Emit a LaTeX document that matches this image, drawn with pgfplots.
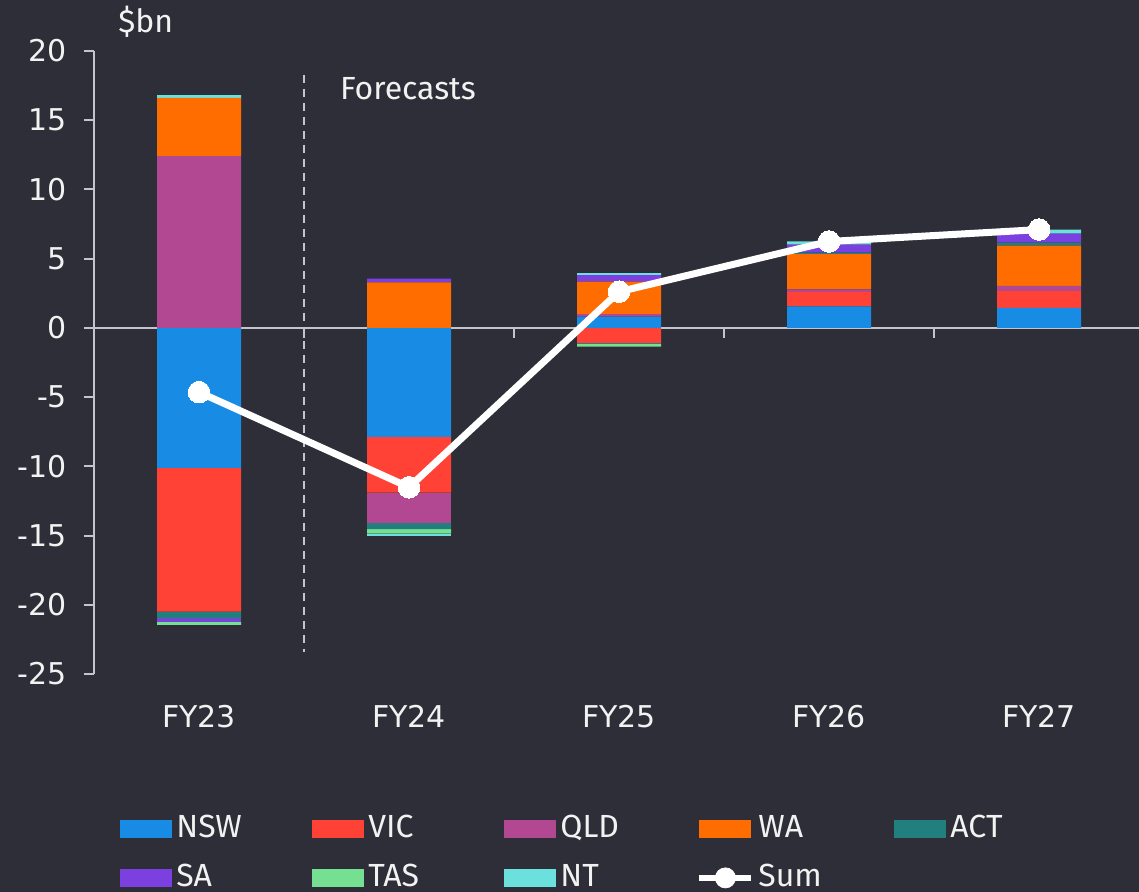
\documentclass[border=0pt]{standalone}
\usepackage{pgfplots}
\pgfplotsset{compat=1.18}
\usepackage{fontspec}
\setmainfont{Fira Sans}
\newfontfamily\tickfont{DejaVu Sans}
\definecolor{bg}{HTML}{2E2E38}
\definecolor{txt}{HTML}{F2F2F2}
\definecolor{axisc}{HTML}{C4C4CD}
\definecolor{NSWc}{HTML}{188CE5}
\definecolor{VICc}{HTML}{FF4136}
\definecolor{QLDc}{HTML}{B14891}
\definecolor{WAc}{HTML}{FF6D00}
\definecolor{ACTc}{HTML}{21807E}
\definecolor{SAc}{HTML}{7D40E0}
\definecolor{TASc}{HTML}{75DF92}
\definecolor{NTc}{HTML}{6BE0DC}
\pgfplotsset{
  mybar/.style={fill=#1, draw=none,
    legend image code/.code={\path[fill=#1] (0pt,-4.5pt) rectangle (26pt,4.5pt);}},
}
\begin{document}
\begin{tikzpicture}
\useasboundingbox (0,0) rectangle (569.5pt,446pt);
\fill[bg] (0,0) rectangle (569.5pt,446pt);
\begin{axis}[
  at={(47pt,109pt)}, anchor=south west,
  scale only axis, width=522.5pt, height=311.5pt,
  xmin=-0.5, xmax=4.476, ymin=-25, ymax=20,
  ybar stacked, bar width=42pt,
  axis y line*=left, axis x line*=bottom,
  x axis line style={draw=none},
  y axis line style={draw=axisc, line width=1pt},
  xtick={0,1,2,3,4}, xticklabels={FY23,FY24,FY25,FY26,FY27},
  xtick style={draw=none},
  ytick={-25,-20,-15,-10,-5,0,5,10,15,20},
  ytick style={draw=axisc, line width=1pt},
  tick align=outside, major tick length=5pt,
  /pgf/number format/assume math mode=true,
  every tick label/.append style={font=\tickfont\fontsize{15}{18}\selectfont, text=txt},
  yticklabel style={xshift=-5pt},
  xticklabel style={yshift=-7pt},
  clip=false,
  legend columns=5, legend cell align=left,
  legend style={at={(0.0249,-0.2247)}, anchor=north west, draw=none, fill=none,
    inner sep=0pt, text=txt, font=\fontsize{16}{19}\selectfont,
    row sep=10pt, column sep=0pt,
    nodes={inner xsep=2pt, inner ysep=0pt, text width=66pt, align=left,
      text height=11.5pt, text depth=3pt}},
]
% positive parts
\addplot[mybar=NSWc] coordinates {(0,0) (1,0) (2,0.82) (3,1.55) (4,1.45)};
\addlegendentry{NSW}
\addplot[mybar=VICc] coordinates {(0,0) (1,0) (2,0) (3,1.03) (4,1.23)};
\addlegendentry{VIC}
\addplot[mybar=QLDc] coordinates {(0,12.4) (1,0) (2,0.17) (3,0.2) (4,0.36)};
\addlegendentry{QLD}
\addplot[mybar=WAc] coordinates {(0,4.22) (1,3.28) (2,2.36) (3,2.54) (4,2.9)};
\addlegendentry{WA}
\addplot[mybar=ACTc] coordinates {(0,0) (1,0) (2,0) (3,0.12) (4,0.22)};
\addlegendentry{ACT}
\addplot[mybar=SAc] coordinates {(0,0) (1,0.27) (2,0.46) (3,0.58) (4,0.65)};
\addlegendentry{SA}
\addplot[mybar=TASc] coordinates {(0,0) (1,0) (2,0) (3,0) (4,0)};
\addlegendentry{TAS}
\addplot[mybar=NTc] coordinates {(0,0.2) (1,0) (2,0.15) (3,0.22) (4,0.29)};
\addlegendentry{NT}
% negative parts (stacked from zero)
\addplot[mybar=NSWc, forget plot] coordinates {(0,-10.12) (1,-7.87) (2,0) (3,0) (4,0)};
\addplot[mybar=VICc, forget plot] coordinates {(0,-10.38) (1,-4.03) (2,-1.1) (3,0) (4,0)};
\addplot[mybar=QLDc, forget plot] coordinates {(0,0) (1,-2.2) (2,0) (3,0) (4,0)};
\addplot[mybar=ACTc, forget plot] coordinates {(0,-0.48) (1,-0.43) (2,-0.05) (3,0) (4,0)};
\addplot[mybar=SAc, forget plot] coordinates {(0,-0.24) (1,0) (2,0) (3,0) (4,0)};
\addplot[mybar=TASc, forget plot] coordinates {(0,-0.24) (1,-0.34) (2,-0.2) (3,0) (4,0)};
\addplot[mybar=NTc, forget plot] coordinates {(0,0) (1,-0.19) (2,0) (3,0) (4,0)};
\addlegendimage{legend image code/.code={\draw[white, line width=3pt] (0pt,0pt) -- (26pt,0pt); \fill[white] (13pt,0pt) circle (5pt);}}
\addlegendentry{Sum}
% zero line, ticks, forecast divider
\draw[axisc, line width=1pt] (axis cs:-0.5,0) -- (axis cs:4.476,0);
\draw[axisc, line width=1pt] (axis cs:0.5,0) -- ++(0pt,-5pt);
\draw[axisc, line width=1pt] (axis cs:1.5,0) -- ++(0pt,-5pt);
\draw[axisc, line width=1pt] (axis cs:2.5,0) -- ++(0pt,-5pt);
\draw[axisc, line width=1pt] (axis cs:3.5,0) -- ++(0pt,-5pt);
\draw[axisc, line width=1pt, dash pattern=on 4pt off 3pt] (axis cs:0.5,18.3) -- (axis cs:0.5,-23.4);
\node[anchor=west, text=txt, font=\fontsize{16}{19}\selectfont, inner sep=0pt] at (axis cs:0.67,17.3) {Forecasts};
\node[anchor=west, text=txt, font=\fontsize{16}{19}\selectfont, inner sep=0pt] at (rel axis cs:0.023,1.0466) {\$bn};
\end{axis}
\begin{axis}[
  at={(47pt,109pt)}, anchor=south west,
  scale only axis, width=522.5pt, height=311.5pt,
  xmin=-0.5, xmax=4.476, ymin=-25, ymax=20,
  hide axis, clip=false,
]
\addplot[white, line width=3.5pt, mark=*, mark size=5.4pt,
  mark options={fill=white, draw=white, line width=0pt}]
  coordinates {(0,-4.64) (1,-11.51) (2,2.61) (3,6.24) (4,7.10)};
\end{axis}
\end{tikzpicture}
\end{document}
